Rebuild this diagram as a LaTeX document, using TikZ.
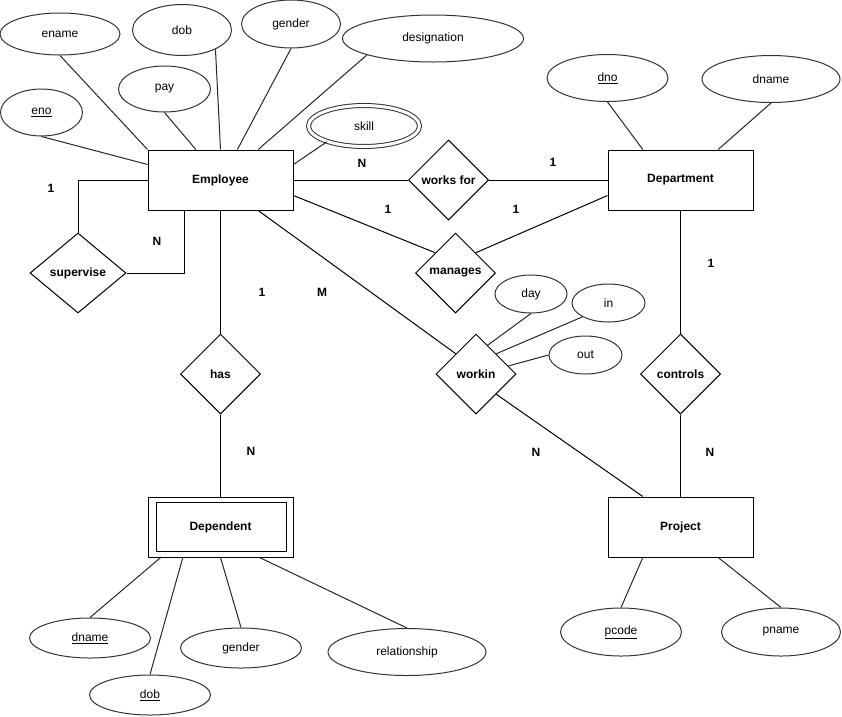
\documentclass[tikz,border=0pt]{standalone}
\usepackage{fontspec}
\setmainfont{Liberation Sans}
\usetikzlibrary{shapes.geometric}

\begin{document}
\begin{tikzpicture}[x=1pt, y=-1pt, line width=1pt,
entity/.style={rectangle, draw, minimum width=145pt, minimum height=60pt, font=\fontsize{12}{14}\selectfont\bfseries},
relation/.style={diamond, draw, minimum width=80pt, minimum height=80pt, inner sep=1pt, font=\fontsize{12}{14}\selectfont\bfseries},
attrib/.style={ellipse, draw=black!80, minimum width=120pt, minimum height=47pt, inner sep=0pt, font=\fontsize{12}{14}\selectfont},
card/.style={inner sep=0pt, font=\fontsize{12}{14}\selectfont\bfseries},
link/.style={draw=black!85}
]
	\useasboundingbox (0,0) rectangle (842,716);
	% entities
	\node[entity] (emp)  at (220.5,180) {Employee};
	\node[entity] (dept) at (680.5,180) {Department};
	\node[entity] (proj) at (680.5,527) {Project};
	\node[entity] (dep)  at (220.5,527) {Dependent};
	\draw ([shift={(9pt,-6pt)}]dep.north west) rectangle ([shift={(-7pt,6pt)}]dep.south east);
	% relationships
	\node[relation] (wf)  at (448.5,180) {works for};
	\node[relation] (mng) at (455.5,273) {manages};
	\node[relation, minimum width=96pt] (sup) at (78,273) {supervise};
	\node[relation] (has) at (220.5,374) {has};
	\node[relation] (wk)  at (476,374) {workin};
	\node[relation] (ctl) at (680.5,374) {controls};
	% attributes
	\node[attrib, minimum width=120pt, minimum height=42pt] (ename) at (60,34) {ename};
	\node[attrib, minimum width=99pt, minimum height=51pt] (dob) at (182,30) {dob};
	\node[attrib, minimum width=99pt, minimum height=48pt] (gender) at (291,24) {gender};
	\node[attrib, minimum width=181pt, minimum height=47pt] (desig) at (433,38.5) {designation};
	\node[attrib, minimum width=92pt, minimum height=46pt] (pay) at (164.5,89) {pay};
	\node[attrib, minimum width=82pt, minimum height=47pt] (eno) at (41.5,112.5) {\underline{eno}};
	\node[attrib, double, double distance=3pt, minimum width=111pt, minimum height=41pt] (skill) at (364,126) {skill};
	\node[attrib, minimum width=121pt, minimum height=47pt] (dno) at (607.5,78) {\underline{dno}};
	\node[attrib, minimum width=138pt, minimum height=47pt] (dname) at (771,79) {dname};
	\node[attrib, minimum width=72pt, minimum height=38pt] (day) at (531,294) {day};
	\node[attrib, minimum width=73pt, minimum height=38pt] (win) at (608.5,303) {in};
	\node[attrib, minimum width=73pt, minimum height=38pt] (wout) at (585.5,355) {out};
	\node[attrib, minimum width=121pt, minimum height=48pt] (pcode) at (621,632) {\underline{pcode}};
	\node[attrib, minimum width=119pt, minimum height=48pt] (pname) at (781,632) {pname};
	\node[attrib, minimum width=121pt, minimum height=40pt] (ddname) at (90,638) {\underline{dname}};
	\node[attrib, minimum width=121pt, minimum height=40pt] (ddob) at (150,695) {\underline{dob}};
	\node[attrib, minimum width=121pt, minimum height=40pt] (dgender) at (241,648) {gender};
	\node[attrib, minimum width=158pt, minimum height=47pt] (drel) at (407,652) {relationship};
	% cardinalities
	\node[card] (c1)  at (362,163) {N};
	\node[card] (c2)  at (553,162) {1};
	\node[card] (c3)  at (388,209) {1};
	\node[card] (c4)  at (516,209) {1};
	\node[card] (c5)  at (51,188)  {1};
	\node[card] (c6)  at (157,241) {N};
	\node[card] (c7)  at (262,292) {1};
	\node[card] (c8)  at (322,292) {M};
	\node[card] (c9)  at (251,451) {N};
	\node[card] (c10) at (536,452) {N};
	\node[card] (c11) at (711,263) {1};
	\node[card] (c12) at (710,452) {N};
	% relationship lines
	\draw (emp) -- (wf);
	\draw (wf) -- (dept);
	\draw (emp.-12) -- (mng.north west);
	\draw (dept.192) -- (mng.north east);
	\draw (emp.west) -| (sup.north);
	\draw (sup.east) -| (emp.220);
	\draw (emp) -- (has);
	\draw (has) -- (dep);
	\draw (emp.-39) -- (wk.north west);
	\draw (wk.south east) -- (proj.141);
	\draw (dept) -- (ctl);
	\draw (ctl) -- (proj);
	% attribute lines
	\draw[link] (ename.south) -- (emp.north west);
	\draw[link] (eno.south) -- (emp.168);
	\draw[link] (pay.south) -- (emp.129);
	\draw[link] (dob.-30) -- (emp.north);
	\draw[link] (gender.south) -- (emp.61);
	\draw[link] (desig.194) -- (emp.39);
	\draw[link] (skill.203) -- (emp.12);
	\draw[link] (dno.south) -- (dept.141);
	\draw[link] (dname.south) -- (dept.39);
	\draw[link] (day.south) -- (wk.68);
	\draw[link] (win.208) -- (wk.north east);
	\draw[link] (wout.west) -- (wk.14);
	\draw[link] (pcode.north) -- (proj.-141);
	\draw[link] (pname.north) -- (proj.-39);
	\draw[link] (ddname.north) -- (dep.207);
	\draw[link] (ddob.north) -- (dep.219);
	\draw[link] (dgender.north) -- (dep.south);
	\draw[link] (drel.north) -- (dep.-38);
\end{tikzpicture}
\end{document}
